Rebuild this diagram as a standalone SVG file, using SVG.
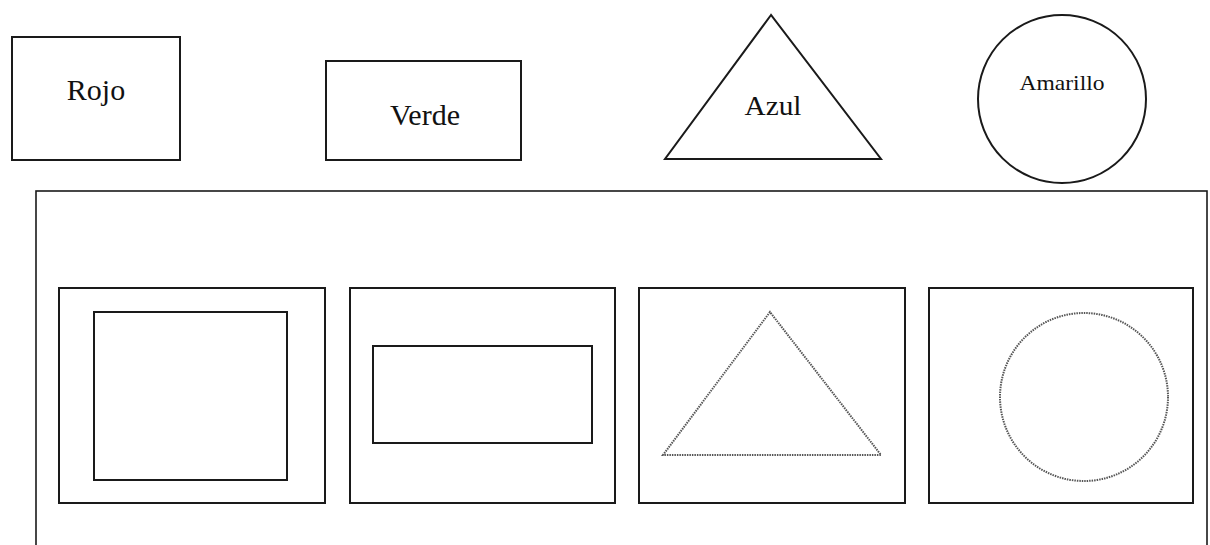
<svg xmlns="http://www.w3.org/2000/svg" width="1210" height="545" viewBox="0 0 1210 545">
<style>
.s{fill:none;stroke:#1a1a1a;stroke-width:2}
.o{fill:none;stroke:#1a1a1a;stroke-width:1.6}
.d{fill:none;stroke:#555;stroke-width:2;stroke-dasharray:1.5 1}
.t{font-family:"Liberation Serif","Times New Roman",serif;fill:#111;text-anchor:middle}
</style>
<rect width="1210" height="545" fill="#fff"/>
<g id="rojo">
<rect class="s" x="12" y="37" width="168" height="123"/>
<text class="t" x="96" y="100" font-size="30">Rojo</text>
</g>
<g id="verde">
<rect class="s" x="326" y="61" width="195" height="99"/>
<text class="t" x="425" y="125" font-size="30">Verde</text>
</g>
<g id="azul">
<polygon class="s" points="771,15 665,159 881,159"/>
<text class="t" x="773" y="115" font-size="28" textLength="57" lengthAdjust="spacingAndGlyphs">Azul</text>
</g>
<g id="amarillo">
<circle class="s" cx="1062" cy="99" r="84"/>
<text class="t" x="1062" y="90" font-size="22" textLength="85" lengthAdjust="spacingAndGlyphs">Amarillo</text>
</g>
<g id="panel">
<rect class="o" x="36" y="191" width="1171" height="380"/>
</g>
<g id="caja1">
<rect class="s" x="59" y="288" width="266" height="215"/>
<rect class="s" x="94" y="312" width="193" height="168"/>
</g>
<g id="caja2">
<rect class="s" x="350" y="288" width="265" height="215"/>
<rect class="s" x="373" y="346" width="219" height="97"/>
</g>
<g id="caja3">
<rect class="s" x="639" y="288" width="266" height="215"/>
<polygon class="d" points="770,312 663,455 881,455"/>
</g>
<g id="caja4">
<rect class="s" x="929" y="288" width="264" height="215"/>
<circle class="d" cx="1084" cy="397" r="84"/>
</g>
<g id="connectors"/>
</svg>
